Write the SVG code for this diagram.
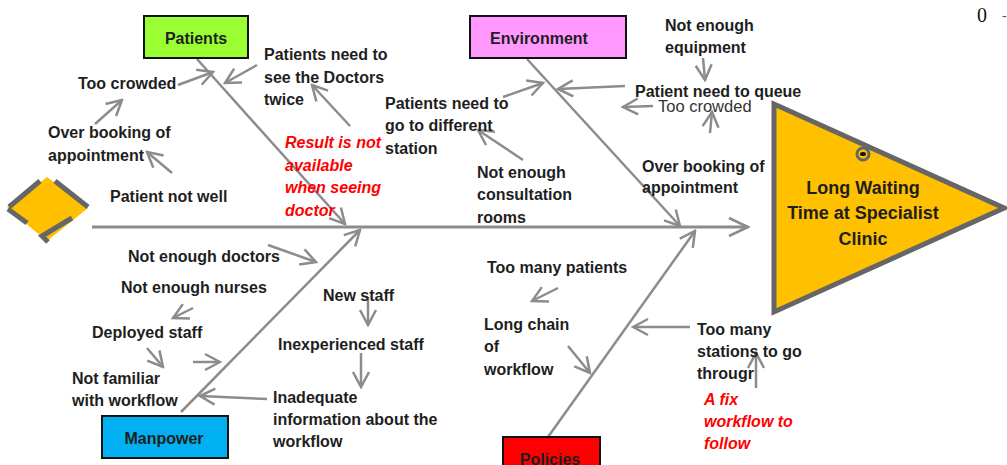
<svg xmlns="http://www.w3.org/2000/svg" width="1007" height="465" viewBox="0 0 1007 465">
  <defs>
    <marker id="arrow" viewBox="-18 -10 20 20" refX="0" refY="0" markerWidth="20" markerHeight="20" markerUnits="userSpaceOnUse" orient="auto">
      <path d="M-15,-8 L0,0 L-15,8" fill="none" stroke="#8c8c8c" stroke-width="2.5" stroke-linejoin="miter"/>
    </marker>
    <marker id="arrow-lg" viewBox="-22 -12 24 24" refX="0" refY="0" markerWidth="24" markerHeight="24" markerUnits="userSpaceOnUse" orient="auto">
      <path d="M-19,-9 L0,0 L-19,9" fill="none" stroke="#8c8c8c" stroke-width="2.5"/>
    </marker>
  </defs>
  <style>
    .lbl { font-family: "Liberation Sans", Arial, sans-serif; font-weight: bold; font-size: 16px; fill: #1e1e1e; }
    .red { font-family: "Liberation Sans", Arial, sans-serif; font-weight: bold; font-style: italic; font-size: 16px; fill: #ff0000; }
    .cat { font-family: "Liberation Sans", Arial, sans-serif; font-weight: bold; font-size: 16px; fill: #1e1e1e; text-anchor: middle; }
    .head { font-size: 18px; }
    .box { stroke: #111; stroke-width: 2; }
    .bone { stroke: #8c8c8c; stroke-width: 2.5; fill: none; marker-end: url(#arrow); }
    .sub { stroke: #8c8c8c; stroke-width: 2.5; fill: none; marker-end: url(#arrow); }
  </style>

  <rect width="1007" height="465" fill="#ffffff"/>

  <!-- stray page mark -->
  <text x="977" y="22" font-family="Liberation Serif, serif" font-size="20" fill="#111">0</text>
  <text x="1002" y="20" font-family="Liberation Serif, serif" font-size="14" fill="#555">-</text>

  <!-- tail diamond -->
  <g id="tail">
    <polygon points="47,177 88,208 47,241 7,208" fill="#ffc000"/>
    <g stroke="#666666" stroke-width="5" fill="none">
      <line x1="9" y1="207" x2="40" y2="181"/>
      <line x1="55" y1="181" x2="88" y2="207"/>
      <line x1="8" y1="209" x2="27" y2="223"/>
      <polyline points="72,218 42,236 48,242"/>
    </g>
  </g>

  <!-- connectors -->
  <g id="connectors">
    <!-- spine -->
    <line x1="92" y1="227" x2="748" y2="227" stroke="#8c8c8c" stroke-width="3" marker-end="url(#arrow-lg)"/>
    <!-- category bones -->
    <line class="bone" x1="197" y1="59" x2="345" y2="224"/>
    <line class="bone" x1="527" y1="59" x2="680" y2="226"/>
    <line class="bone" x1="181" y1="412" x2="360" y2="230"/>
    <line class="bone" x1="548" y1="437" x2="695" y2="231"/>

    <!-- Patients causes -->
    <line class="sub" x1="178" y1="85" x2="213" y2="72"/>
    <line class="sub" x1="257" y1="65" x2="225" y2="83"/>
    <line class="sub" x1="350" y1="126" x2="312" y2="85"/>
    <line class="sub" x1="95" y1="124" x2="122" y2="100"/>
    <line class="sub" x1="172" y1="173" x2="147" y2="152"/>

    <!-- Environment causes -->
    <line class="sub" x1="703" y1="58" x2="705" y2="80"/>
    <line class="sub" x1="625" y1="86" x2="558" y2="89"/>
    <line class="sub" x1="653" y1="106" x2="623" y2="107"/>
    <line class="sub" x1="710" y1="133" x2="712" y2="112"/>
    <line class="sub" x1="503" y1="97" x2="543" y2="83"/>
    <line class="sub" x1="523" y1="160" x2="478" y2="130"/>

    <!-- Manpower causes -->
    <line class="sub" x1="268" y1="245" x2="316" y2="262"/>
    <line class="sub" x1="193" y1="308" x2="173" y2="318"/>
    <line class="sub" x1="147" y1="348" x2="163" y2="367"/>
    <line class="sub" x1="193" y1="362" x2="220" y2="362"/>
    <line class="sub" x1="368" y1="297" x2="368" y2="325"/>
    <line class="sub" x1="361" y1="353" x2="361" y2="387"/>
    <line class="sub" x1="267" y1="399" x2="200" y2="396"/>

    <!-- Policies causes -->
    <line class="sub" x1="558" y1="288" x2="532" y2="301"/>
    <line class="sub" x1="568" y1="346" x2="590" y2="373"/>
    <line class="sub" x1="690" y1="327" x2="633" y2="327"/>
    <line class="sub" x1="756" y1="388" x2="756" y2="353"/>
  </g>

  <!-- effect head -->
  <g id="effect">
    <polygon points="774,104 1004,208 774,312" fill="#ffc000" stroke="#666666" stroke-width="5" stroke-linejoin="miter"/>
    <circle cx="863" cy="154" r="6" fill="#ffc000" stroke="#666666" stroke-width="3"/>
    <ellipse cx="863" cy="154" rx="3" ry="2" fill="#111"/>
    <text class="cat head" x="863" y="194">Long Waiting</text>
    <text class="cat head" x="863" y="219">Time at Specialist</text>
    <text class="cat head" x="863" y="245">Clinic</text>
  </g>

  <!-- categories -->
  <g id="patients">
    <rect class="box" x="144" y="16" width="104" height="42" fill="#99ff33"/>
    <text class="cat" x="196" y="44">Patients</text>
  </g>
  <g id="environment">
    <rect class="box" x="470" y="16" width="156" height="42" fill="#ff99ff"/>
    <text class="cat" x="539" y="44">Environment</text>
  </g>
  <g id="manpower">
    <rect class="box" x="102" y="416" width="126" height="42" fill="#00b0f0"/>
    <text class="cat" x="164" y="444">Manpower</text>
  </g>
  <g id="policies">
    <rect class="box" x="503" y="437" width="97" height="40" fill="#ff0000"/>
    <text class="cat" x="550" y="465">Policies</text>
  </g>

  <!-- Patients causes -->
  <g id="patients-causes">
    <text class="lbl" x="78" y="89">Too crowded</text>
    <text class="lbl" x="264" y="60">Patients need to</text>
    <text class="lbl" x="264" y="83">see the Doctors</text>
    <text class="lbl" x="264" y="105">twice</text>
    <text class="lbl" x="48" y="138">Over booking of</text>
    <text class="lbl" x="48" y="161">appointment</text>
    <text class="lbl" x="110" y="202">Patient not well</text>
    <text class="red" x="285" y="148">Result is not</text>
    <text class="red" x="285" y="171">available</text>
    <text class="red" x="285" y="193">when seeing</text>
    <text class="red" x="285" y="216">doctor</text>
  </g>

  <!-- Environment causes -->
  <g id="environment-causes">
    <text class="lbl" x="665" y="31">Not enough</text>
    <text class="lbl" x="665" y="53">equipment</text>
    <text class="lbl" x="635" y="97">Patient need to queue</text>
    <text x="658" y="112" font-family="Liberation Sans, Arial, sans-serif" font-size="16.5" fill="#333333">Too crowded</text>
    <text class="lbl" x="385" y="109">Patients need to</text>
    <text class="lbl" x="385" y="131">go to different</text>
    <text class="lbl" x="385" y="154">station</text>
    <text class="lbl" x="477" y="178">Not enough</text>
    <text class="lbl" x="477" y="200">consultation</text>
    <text class="lbl" x="477" y="223">rooms</text>
    <text class="lbl" x="642" y="172">Over booking of</text>
    <text class="lbl" x="642" y="193">appointment</text>
  </g>

  <!-- Manpower causes -->
  <g id="manpower-causes">
    <text class="lbl" x="128" y="262">Not enough doctors</text>
    <text class="lbl" x="121" y="293">Not enough nurses</text>
    <text class="lbl" x="92" y="338">Deployed staff</text>
    <text class="lbl" x="72" y="384">Not familiar</text>
    <text class="lbl" x="72" y="406">with workflow</text>
    <text class="lbl" x="323" y="301">New staff</text>
    <text class="lbl" x="278" y="350">Inexperienced staff</text>
    <text class="lbl" x="273" y="403">Inadequate</text>
    <text class="lbl" x="273" y="425">information about the</text>
    <text class="lbl" x="273" y="447">workflow</text>
  </g>

  <!-- Policies causes -->
  <g id="policies-causes">
    <text class="lbl" x="487" y="273">Too many patients</text>
    <text class="lbl" x="484" y="330">Long chain</text>
    <text class="lbl" x="484" y="352">of</text>
    <text class="lbl" x="484" y="375">workflow</text>
    <text class="lbl" x="697" y="335">Too many</text>
    <text class="lbl" x="697" y="357">stations to go</text>
    <text class="lbl" x="697" y="379">througr</text>
    <text class="red" x="704" y="405">A fix</text>
    <text class="red" x="704" y="427">workflow to</text>
    <text class="red" x="704" y="449">follow</text>
  </g>
</svg>
